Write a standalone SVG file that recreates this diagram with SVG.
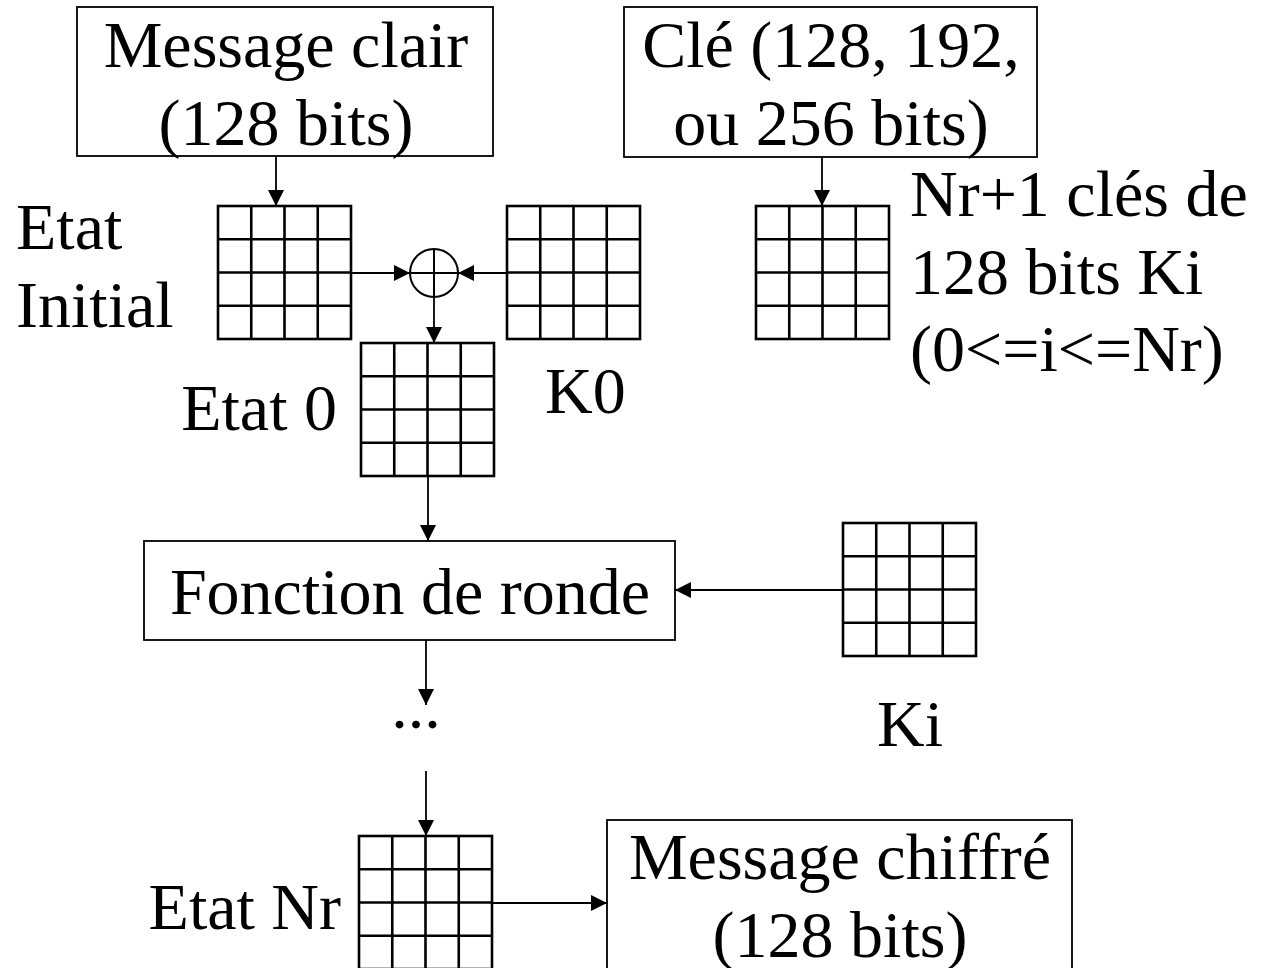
<svg xmlns="http://www.w3.org/2000/svg" xmlns:xlink="http://www.w3.org/1999/xlink" width="1263" height="968" viewBox="0 0 1263 968">
  <style>
    .box { fill: #ffffff; stroke: #000000; stroke-width: 1.8; }
    .grid { fill: none; stroke: #000000; stroke-width: 2.6; }
    .lbl { font-family: "Liberation Serif", "Times New Roman", serif; font-size: 66px; fill: #000000; }
    .mid { text-anchor: middle; }
    .end { text-anchor: end; }
    .wire { fill: none; stroke: #000000; stroke-width: 1.8; }
  </style>
  <defs>
    <marker id="arrow" markerUnits="userSpaceOnUse" markerWidth="16" markerHeight="16" refX="16" refY="8" orient="auto">
      <path d="M0,0 L16,8 L0,16 z" fill="#000000"/>
    </marker>
    <!-- 4x4 state matrix, 133 px square -->
    <g id="matrix">
      <rect class="grid" x="0" y="0" width="133" height="133"/>
      <path class="grid" d="M33.25,0 V133 M66.5,0 V133 M99.75,0 V133 M0,33.25 H133 M0,66.5 H133 M0,99.75 H133"/>
    </g>
  </defs>

  <rect width="1263" height="968" fill="#ffffff"/>

  <!-- connectors -->
  <g id="connectors">
    <line class="wire" x1="276" y1="156" x2="276" y2="206" marker-end="url(#arrow)"/>
    <line class="wire" x1="822" y1="157" x2="822" y2="206" marker-end="url(#arrow)"/>
    <line class="wire" x1="351" y1="273" x2="410" y2="273" marker-end="url(#arrow)"/>
    <line class="wire" x1="507" y1="273" x2="458" y2="273" marker-end="url(#arrow)"/>
    <line class="wire" x1="434" y1="297" x2="434" y2="343" marker-end="url(#arrow)"/>
    <line class="wire" x1="428" y1="476" x2="428" y2="541" marker-end="url(#arrow)"/>
    <line class="wire" x1="843" y1="590" x2="675" y2="590" marker-end="url(#arrow)"/>
    <line class="wire" x1="426" y1="640" x2="426" y2="705" marker-end="url(#arrow)"/>
    <line class="wire" x1="426" y1="771" x2="426" y2="836" marker-end="url(#arrow)"/>
    <line class="wire" x1="492" y1="903" x2="607" y2="903" marker-end="url(#arrow)"/>
  </g>

  <!-- plaintext input -->
  <g id="plaintext">
    <rect class="box" x="77" y="7" width="416" height="149"/>
    <text class="lbl mid" x="286" y="67">Message clair</text>
    <text class="lbl mid" x="286" y="145">(128 bits)</text>
  </g>

  <!-- cipher key -->
  <g id="key">
    <rect class="box" x="624" y="7" width="413" height="150"/>
    <text class="lbl mid" x="831" y="67">Clé (128, 192,</text>
    <text class="lbl mid" x="831" y="145">ou 256 bits)</text>
  </g>

  <!-- initial state -->
  <g id="state-initial">
    <use xlink:href="#matrix" x="218" y="206"/>
    <text class="lbl" x="16" y="249">Etat</text>
    <text class="lbl" x="16" y="327">Initial</text>
  </g>

  <!-- XOR with first round key -->
  <g id="xor">
    <circle cx="434" cy="273" r="24" fill="#ffffff" stroke="#000000" stroke-width="2"/>
    <path d="M410,273 H458 M434,249 V297" stroke="#000000" stroke-width="2"/>
  </g>

  <!-- round key K0 -->
  <g id="key-k0">
    <use xlink:href="#matrix" x="507" y="206"/>
    <text class="lbl" x="545" y="413">K0</text>
  </g>

  <!-- expanded key schedule -->
  <g id="key-schedule">
    <use xlink:href="#matrix" x="756" y="206"/>
    <text class="lbl" x="910" y="216">Nr+1 clés de</text>
    <text class="lbl" x="910" y="294">128 bits Ki</text>
    <text class="lbl" x="910" y="371">(0&lt;=i&lt;=Nr)</text>
  </g>

  <!-- state after initial AddRoundKey -->
  <g id="state-0">
    <use xlink:href="#matrix" x="361" y="343"/>
    <text class="lbl end" x="337" y="430">Etat 0</text>
  </g>

  <!-- round function -->
  <g id="round">
    <rect class="box" x="144" y="541" width="531" height="99"/>
    <text class="lbl mid" x="410" y="614">Fonction de ronde</text>
  </g>

  <!-- round key Ki -->
  <g id="key-ki">
    <use xlink:href="#matrix" x="843" y="523"/>
    <text class="lbl" x="877" y="746">Ki</text>
  </g>

  <!-- further rounds -->
  <g id="ellipsis">
    <text class="lbl mid" x="416" y="728">...</text>
  </g>

  <!-- final state -->
  <g id="state-nr">
    <use xlink:href="#matrix" x="359" y="836"/>
    <text class="lbl end" x="341" y="929">Etat Nr</text>
  </g>

  <!-- ciphertext output -->
  <g id="ciphertext">
    <rect class="box" x="607" y="820" width="465" height="160"/>
    <text class="lbl mid" x="840" y="879">Message chiffré</text>
    <text class="lbl mid" x="840" y="957">(128 bits)</text>
  </g>
</svg>
